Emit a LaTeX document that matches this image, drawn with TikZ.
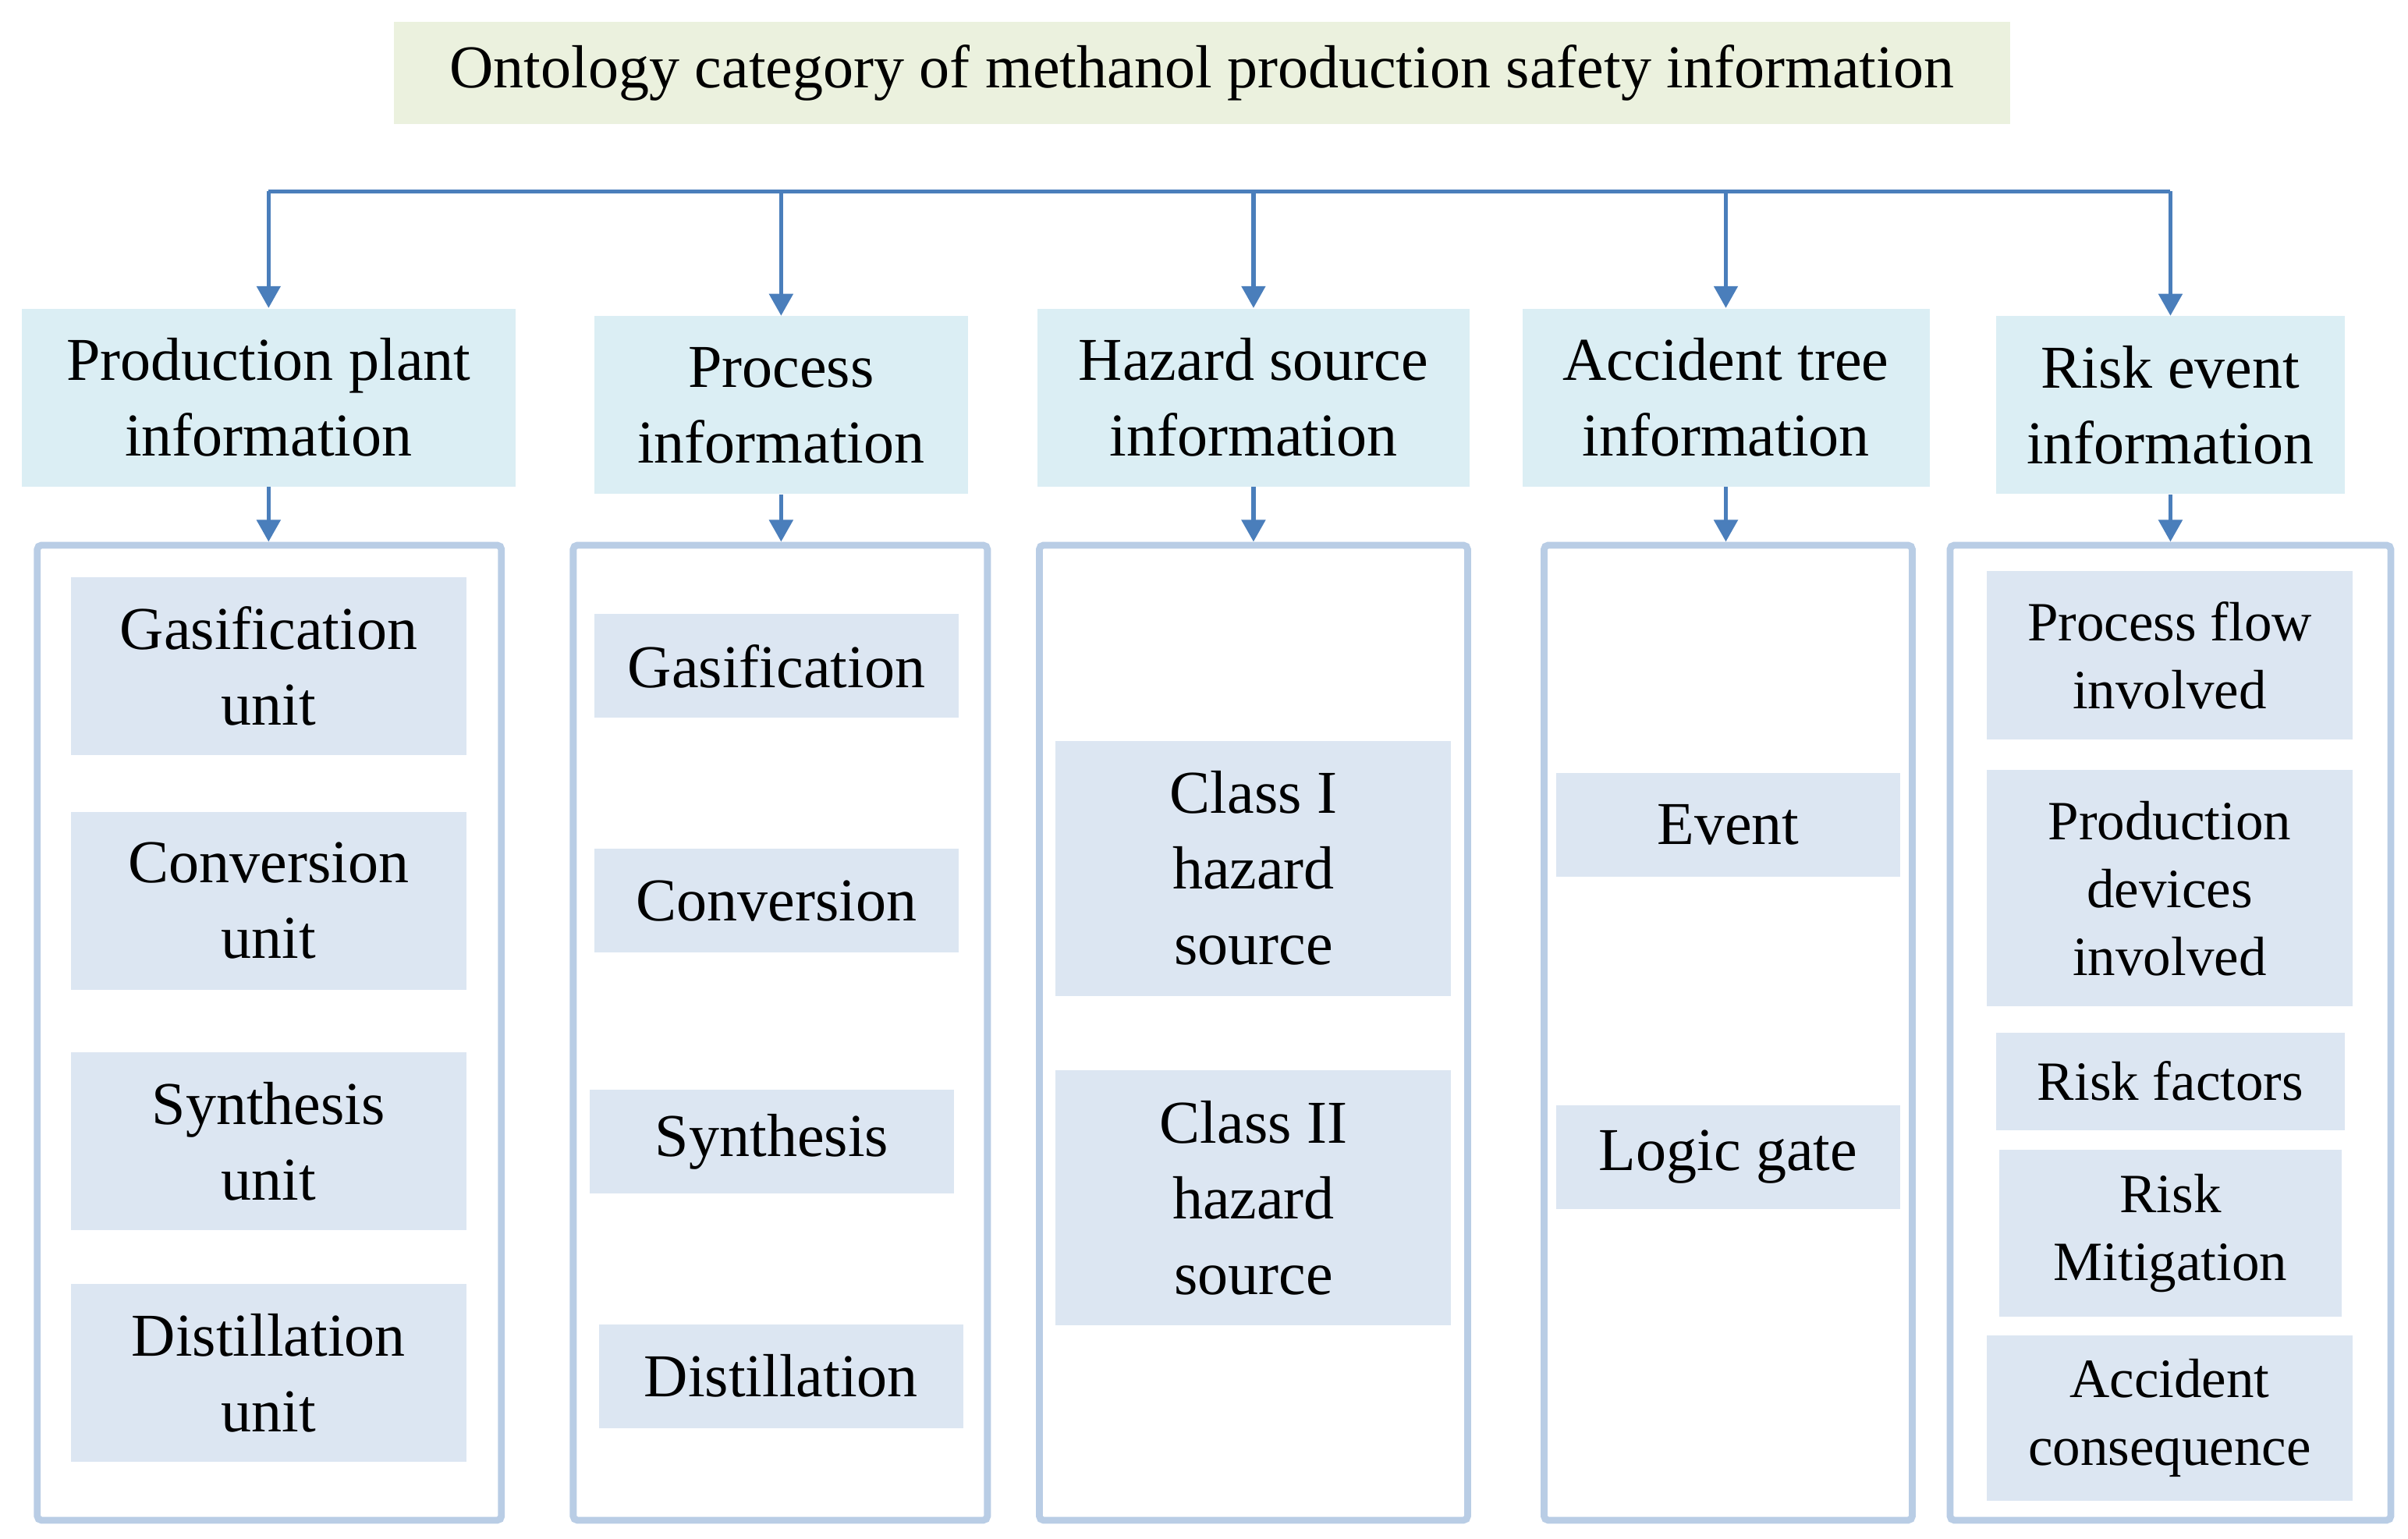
\documentclass[tikz,border=0pt]{standalone}
\usepackage{fontspec}
\setmainfont{Liberation Serif}
\usetikzlibrary{arrows.meta}
\definecolor{titlefill}{HTML}{EBF1DE}
\definecolor{headfill}{HTML}{DBEEF4}
\definecolor{itemfill}{HTML}{DCE6F2}
\definecolor{panelline}{HTML}{B9CDE5}
\definecolor{arrowblue}{HTML}{4A7EBB}
\begin{document}
\begin{tikzpicture}[x=0.01979cm,y=-0.01979cm]
        \tikzstyle{title}=[fill=titlefill,minimum width=20.72cm,minimum height=1.31cm,inner sep=0pt,font=\fontsize{22.2}{27.6}\selectfont]
        \tikzstyle{header}=[fill=headfill,minimum height=2.28cm,inner sep=0pt,align=center,font=\fontsize{22.2}{27.6}\selectfont]
        \tikzstyle{panel}=[draw=panelline,line width=2.5pt,rounded corners=1.5pt,fill=white,minimum height=12.5cm,inner sep=0pt]
        \tikzstyle{item}=[fill=itemfill,inner sep=0pt,align=center,font=\fontsize{22.2}{27.6}\selectfont]
        \tikzstyle{risk}=[item,font=\fontsize{20.2}{24.7}\selectfont]
        \tikzstyle{busline}=[draw=arrowblue,line width=1.6pt]
        \tikzstyle{edge}=[busline,-{Triangle[width=8.5pt,length=8pt]}]
        \useasboundingbox (0,0) rectangle (1559.9,996.5);
        \begin{scope}
                % title and categories
                \node [title] (t) at (778.5,47) {Ontology category of methanol production safety information};
                \node [header,minimum width=6.33cm] (h1) at (174,257.5) {Production plant\\information};
                \node [header,minimum width=4.79cm] (h2) at (506,262.5) {Process\\information};
                \node [header,minimum width=5.54cm] (h3) at (812,257.5) {Hazard source\\information};
                \node [header,minimum width=5.22cm] (h4) at (1118,257.5) {Accident tree\\information};
                \node [header,minimum width=4.47cm] (h5) at (1406,262.5) {Risk event\\information};
                \coordinate (bus) at (0,124);
                \path[busline] (h1.north |- bus) -- (h5.north |- bus);
                \foreach \h in {h1,h2,h3,h4,h5}
                        \path[edge] (\h.north |- bus) -- (\h.north);
                % panels
                \node [panel,minimum width=5.95cm] (p1) at (174.5,669) {};
                \node [panel,minimum width=5.31cm] (p2) at (505.5,669) {};
                \node [panel,minimum width=5.49cm] (p3) at (812,669) {};
                \node [panel,minimum width=4.72cm] (p4) at (1119.5,669) {};
                \node [panel,minimum width=5.65cm] (p5) at (1406,669) {};
                \path[edge] (h1.south) -- (h1.south |- p1.north);
                \path[edge] (h2.south) -- (h2.south |- p2.north);
                \path[edge] (h3.south) -- (h3.south |- p3.north);
                \path[edge] (h4.south) -- (h4.south |- p4.north);
                \path[edge] (h5.south) -- (h5.south |- p5.north);
                % production plant
                \node [item,minimum width=5.07cm,minimum height=2.28cm] (u1) at (174,431.5) {Gasification\\unit};
                \node [item,minimum width=5.07cm,minimum height=2.28cm] (u2) at (174,583.5) {Conversion\\unit};
                \node [item,minimum width=5.07cm,minimum height=2.28cm] (u3) at (174,739.5) {Synthesis\\unit};
                \node [item,minimum width=5.07cm,minimum height=2.28cm] (u4) at (174,889.5) {Distillation\\unit};
                % process
                \node [item,minimum width=4.67cm,minimum height=1.33cm] (s1) at (503,431.5) {Gasification};
                \node [item,minimum width=4.67cm,minimum height=1.33cm] (s2) at (503,583.5) {Conversion};
                \node [item,minimum width=4.67cm,minimum height=1.33cm] (s3) at (500,739.5) {Synthesis};
                \node [item,minimum width=4.67cm,minimum height=1.33cm] (s4) at (506,891.5) {Distillation};
                % hazard source
                \node [item,minimum width=5.07cm,minimum height=3.27cm] (c1) at (812,562.5) {Class I\\hazard\\source};
                \node [item,minimum width=5.07cm,minimum height=3.27cm] (c2) at (812,776) {Class II\\hazard\\source};
                % accident tree
                \node [item,minimum width=4.41cm,minimum height=1.33cm] (e1) at (1119.5,534.5) {Event};
                \node [item,minimum width=4.41cm,minimum height=1.33cm] (e2) at (1119.5,749.5) {Logic gate};
                % risk event
                \node [risk,minimum width=4.69cm,minimum height=2.16cm] (r1) at (1405.5,424.5) {Process flow\\involved};
                \node [risk,minimum width=4.69cm,minimum height=3.03cm] (r2) at (1405.5,575.5) {Production\\devices\\involved};
                \node [risk,minimum width=4.47cm,minimum height=1.25cm] (r3) at (1406,700.5) {Risk factors};
                \node [risk,minimum width=4.39cm,minimum height=2.14cm] (r4) at (1406,799) {Risk\\Mitigation};
                \node [risk,minimum width=4.69cm,minimum height=2.12cm] (r5) at (1405.5,918.5) {Accident\\consequence};
        \end{scope}
\end{tikzpicture}
\end{document}
